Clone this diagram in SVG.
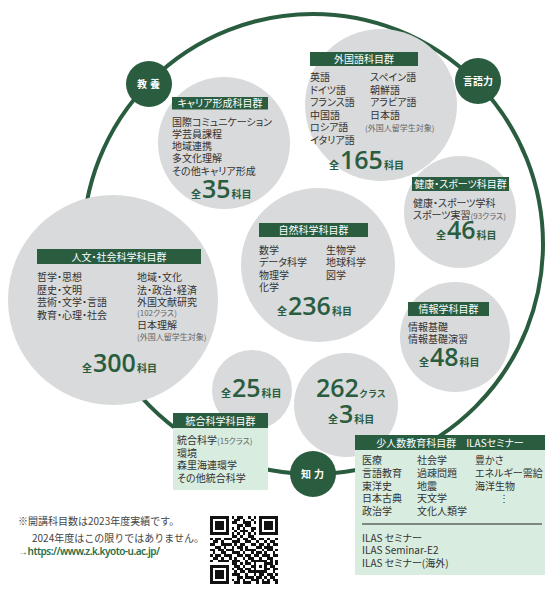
<svg xmlns="http://www.w3.org/2000/svg" width="548" height="590" viewBox="0 0 548 590">
<style>
.c{fill:#d9dadb}
.lb{fill:#2a5d3f}
.gb{fill:#d8ecdf}
.lt{font-family:"Noto Sans CJK JP",sans-serif;font-size:10px;fill:#fff;text-anchor:middle;font-feature-settings:"palt"}
.t{font-family:"Noto Sans CJK JP",sans-serif;font-size:10px;fill:#333;font-feature-settings:"palt"}
.s{font-size:8px;fill:#666}
.z{font-family:"Noto Sans CJK JP",sans-serif;font-weight:700;font-size:10px;fill:#2a5d3f}
.n{font-family:"Open Sans","Noto Sans",sans-serif;font-weight:600;font-size:25px}
.bt{font-family:"Noto Sans CJK JP",sans-serif;font-weight:700;font-size:10px;fill:#fff;text-anchor:middle}
.nt{font-family:"Noto Sans CJK JP",sans-serif;font-size:10px;fill:#444}
</style>
<rect width="548" height="590" fill="#fff"/>
<g id="connectors">
<circle cx="313" cy="244" r="230" fill="none" stroke="#2a5d3f" stroke-width="4"/>
</g>
<g id="foreign">
<circle class="c" cx="381" cy="105" r="76"/>
<rect class="lb" x="310" y="52" width="108" height="14"/>
<text class="lt" x="364" y="63">外国語科目群</text>
<text class="t" x="310" y="81">英語</text>
<text class="t" x="310" y="93.6">ドイツ語</text>
<text class="t" x="310" y="106.2">フランス語</text>
<text class="t" x="310" y="118.8">中国語</text>
<text class="t" x="310" y="131.4">ロシア語</text>
<text class="t" x="310" y="144">イタリア語</text>
<text class="t" x="370" y="81">スペイン語</text>
<text class="t" x="370" y="93.6">朝鮮語</text>
<text class="t" x="370" y="106.2">アラビア語</text>
<text class="t" x="370" y="118.8">日本語</text>
<text class="t s" x="365" y="131">(外国人留学生対象)</text>
<text class="z" x="329" y="169">全<tspan class="n" dx="1">165</tspan><tspan dx="1">科目</tspan></text>
</g>
<g id="career">
<circle class="c" cx="224" cy="143" r="66"/>
<rect class="lb" x="172" y="97" width="96" height="12.5"/>
<text class="lt" x="220" y="107">キャリア形成科目群</text>
<text class="t" x="172" y="125.5">国際コミュニケーション</text>
<text class="t" x="172" y="137.8">学芸員課程</text>
<text class="t" x="172" y="150.1">地域連携</text>
<text class="t" x="172" y="162.4">多文化理解</text>
<text class="t" x="172" y="174.7">その他キャリア形成</text>
<text class="z" x="191" y="198">全<tspan class="n" dx="1">35</tspan><tspan dx="1">科目</tspan></text>
</g>
<g id="humanities">
<circle class="c" cx="113" cy="300" r="105"/>
<rect class="lb" x="37" y="249" width="164" height="15"/>
<text class="lt" x="119" y="260.5">人文・社会科学科目群</text>
<text class="t" x="37" y="281">哲学・思想</text>
<text class="t" x="37" y="293.5">歴史・文明</text>
<text class="t" x="37" y="306">芸術・文学・言語</text>
<text class="t" x="37" y="318.5">教育・心理・社会</text>
<text class="t" x="137" y="281">地域・文化</text>
<text class="t" x="137" y="293.5">法・政治・経済</text>
<text class="t" x="137" y="306">外国文献研究</text>
<text class="t s" x="137" y="315.5">(102クラス)</text>
<text class="t" x="137" y="329">日本理解</text>
<text class="t s" x="137" y="339.5">(外国人留学生対象)</text>
<text class="z" x="82" y="372">全<tspan class="n" dx="1">300</tspan><tspan dx="1">科目</tspan></text>
</g>
<g id="natural">
<circle class="c" cx="318" cy="265" r="77"/>
<rect class="lb" x="259" y="223" width="109" height="14"/>
<text class="lt" x="313.5" y="234">自然科学科目群</text>
<text class="t" x="259" y="254">数学</text>
<text class="t" x="259" y="266.3">データ科学</text>
<text class="t" x="259" y="278.6">物理学</text>
<text class="t" x="259" y="290.9">化学</text>
<text class="t" x="326" y="254">生物学</text>
<text class="t" x="326" y="266.3">地球科学</text>
<text class="t" x="326" y="278.6">図学</text>
<text class="z" x="277" y="315">全<tspan class="n" dx="1">236</tspan><tspan dx="1">科目</tspan></text>
</g>
<g id="health">
<circle class="c" cx="460" cy="212" r="56"/>
<rect class="lb" x="412" y="177" width="97" height="14"/>
<text class="lt" x="460.5" y="188" font-size="9.5">健康・スポーツ科目群</text>
<text class="t" x="413" y="207">健康・スポーツ学科</text>
<text class="t" x="413" y="219.3">スポーツ実習<tspan class="s">(93クラス)</tspan></text>
<text class="z" x="436" y="239">全<tspan class="n" dx="1" font-size="22">46</tspan><tspan dx="1">科目</tspan></text>
</g>
<g id="informatics">
<circle class="c" cx="455" cy="337" r="55"/>
<rect class="lb" x="408" y="302" width="81" height="14"/>
<text class="lt" x="448.5" y="313">情報学科目群</text>
<text class="t" x="408" y="331">情報基礎</text>
<text class="t" x="408" y="342.5">情報基礎演習</text>
<text class="z" x="419" y="366">全<tspan class="n" dx="1" font-size="22">48</tspan><tspan dx="1">科目</tspan></text>
</g>
<g id="total25">
<circle class="c" cx="252" cy="390" r="40"/>
<text class="z" x="221" y="397">全<tspan class="n" dx="1">25</tspan><tspan dx="1">科目</tspan></text>
</g>
<g id="classes262">
<circle class="c" cx="346" cy="405" r="52"/>
<text class="z" x="316" y="397"><tspan class="n">262</tspan><tspan font-size="9">クラス</tspan></text>
<text class="z" x="328" y="423">全<tspan class="n" dx="1" font-size="18">3</tspan><tspan dx="1">科目</tspan></text>
</g>
<g id="integrated">
<rect class="gb" x="173" y="413" width="95" height="77"/>
<rect class="lb" x="173" y="413" width="95" height="15"/>
<text class="lt" x="220.5" y="424.5">統合科学科目群</text>
<text class="t" x="177" y="444">統合科学<tspan class="s">(15クラス)</tspan></text>
<text class="t" x="177" y="456.5">環境</text>
<text class="t" x="177" y="469">森里海連環学</text>
<text class="t" x="177" y="481.5">その他統合科学</text>
</g>
<g id="seminar">
<rect class="gb" x="355" y="435" width="190" height="140"/>
<rect class="lb" x="355" y="435" width="190" height="15"/>
<text class="lt" x="450" y="446.5">少人数教育科目群　ILASセミナー</text>
<text class="t" x="362" y="464">医療</text>
<text class="t" x="362" y="476.8">言語教育</text>
<text class="t" x="362" y="489.6">東洋史</text>
<text class="t" x="362" y="502.4">日本古典</text>
<text class="t" x="362" y="515.2">政治学</text>
<text class="t" x="417" y="464">社会学</text>
<text class="t" x="417" y="476.8">過疎問題</text>
<text class="t" x="417" y="489.6">地震</text>
<text class="t" x="417" y="502.4">天文学</text>
<text class="t" x="417" y="515.2">文化人類学</text>
<text class="t" x="475" y="464">豊かさ</text>
<text class="t" x="475" y="476.8">エネルギー需給</text>
<text class="t" x="475" y="489.6">海洋生物</text>
<text class="t" x="499" y="502.4" fill="#777">⋮</text>
<line x1="362" y1="524" x2="542" y2="524" stroke="#222" stroke-width="1"/>
<text class="t" x="362" y="541.5">ILAS セミナー</text>
<text class="t" x="362" y="554">ILAS Seminar-E2</text>
<text class="t" x="362" y="566.5">ILAS セミナー(海外)</text>
</g>
<g id="badge-kyoyo">
<circle cx="149" cy="84" r="23" fill="#2a5d3f"/>
<text class="bt" x="150" y="88" letter-spacing="3">教養</text>
</g>
<g id="badge-gengo">
<circle cx="478" cy="81" r="23" fill="#2a5d3f"/>
<text class="bt" x="478" y="85">言語力</text>
</g>
<g id="badge-chiryoku">
<circle cx="313" cy="474" r="23" fill="#2a5d3f"/>
<text class="bt" x="314" y="478" letter-spacing="3">知力</text>
</g>
<g id="note">
<text class="nt" x="18" y="524.5">※開講科目数は2023年度実績です。</text>
<text class="nt" x="32" y="541.5">2024年度はこの限りではありません。</text>
<text x="18" y="555" font-family="'Noto Sans',sans-serif" font-size="10" font-weight="600" fill="#2a6e45" textLength="142">→https://www.z.k.kyoto-u.ac.jp/</text>
</g>
<g id="qr" transform="translate(210,516) scale(2.72)" fill="#111" shape-rendering="crispEdges">
<path d="M0 0h7v1h-7zM8 0h1v1h-1zM10 0h2v1h-2zM14 0h1v1h-1zM16 0h1v1h-1zM18 0h7v1h-7z
M0 1h1v1h-1zM6 1h1v1h-1zM9 1h2v1h-2zM12 1h1v1h-1zM15 1h1v1h-1zM18 1h1v1h-1zM24 1h1v1h-1z
M0 2h1v1h-1zM2 2h3v1h-3zM6 2h1v1h-1zM8 2h2v1h-2zM12 2h3v1h-3zM16 2h1v1h-1zM18 2h1v1h-1zM20 2h3v1h-3zM24 2h1v1h-1z
M0 3h1v1h-1zM2 3h3v1h-3zM6 3h1v1h-1zM10 3h2v1h-2zM13 3h2v1h-2zM18 3h1v1h-1zM20 3h3v1h-3zM24 3h1v1h-1z
M0 4h1v1h-1zM2 4h3v1h-3zM6 4h1v1h-1zM8 4h1v1h-1zM10 4h1v1h-1zM12 4h1v1h-1zM15 4h2v1h-2zM18 4h1v1h-1zM20 4h3v1h-3zM24 4h1v1h-1z
M0 5h1v1h-1zM6 5h1v1h-1zM9 5h1v1h-1zM11 5h3v1h-3zM15 5h1v1h-1zM18 5h1v1h-1zM24 5h1v1h-1z
M0 6h7v1h-7zM8 6h1v1h-1zM10 6h1v1h-1zM12 6h1v1h-1zM14 6h1v1h-1zM16 6h1v1h-1zM18 6h7v1h-7z
M8 7h2v1h-2zM11 7h1v1h-1zM14 7h2v1h-2z
M0 8h1v1h-1zM2 8h2v1h-2zM5 8h3v1h-3zM10 8h1v1h-1zM12 8h2v1h-2zM15 8h2v1h-2zM18 8h2v1h-2zM21 8h1v1h-1zM24 8h1v1h-1z
M1 9h2v1h-2zM4 9h1v1h-1zM8 9h3v1h-3zM13 9h2v1h-2zM17 9h1v1h-1zM20 9h1v1h-1zM22 9h2v1h-2z
M0 10h2v1h-2zM4 10h4v1h-4zM9 10h1v1h-1zM11 10h2v1h-2zM15 10h2v1h-2zM18 10h2v1h-2zM21 10h1v1h-1zM23 10h2v1h-2z
M2 11h2v1h-2zM5 11h1v1h-1zM8 11h1v1h-1zM10 11h2v1h-2zM13 11h1v1h-1zM17 11h2v1h-2zM20 11h3v1h-3z
M0 12h2v1h-2zM3 12h2v1h-2zM6 12h3v1h-3zM11 12h1v1h-1zM13 12h4v1h-4zM19 12h1v1h-1zM21 12h2v1h-2zM24 12h1v1h-1z
M1 13h1v1h-1zM4 13h2v1h-2zM8 13h3v1h-3zM12 13h1v1h-1zM15 13h1v1h-1zM17 13h2v1h-2zM20 13h1v1h-1zM23 13h1v1h-1z
M0 14h1v1h-1zM2 14h2v1h-2zM5 14h3v1h-3zM10 14h2v1h-2zM13 14h2v1h-2zM16 14h2v1h-2zM19 14h3v1h-3zM23 14h2v1h-2z
M1 15h2v1h-2zM4 15h1v1h-1zM7 15h1v1h-1zM9 15h1v1h-1zM12 15h1v1h-1zM14 15h2v1h-2zM18 15h1v1h-1zM21 15h2v1h-2z
M0 16h1v1h-1zM3 16h4v1h-4zM8 16h3v1h-3zM13 16h1v1h-1zM15 16h6v1h-6zM22 16h1v1h-1zM24 16h1v1h-1z
M8 17h2v1h-2zM11 17h1v1h-1zM13 17h2v1h-2zM16 17h1v1h-1zM20 17h3v1h-3zM24 17h1v1h-1z
M0 18h7v1h-7zM9 18h2v1h-2zM12 18h1v1h-1zM15 18h2v1h-2zM18 18h1v1h-1zM20 18h1v1h-1zM22 18h2v1h-2z
M0 19h1v1h-1zM6 19h1v1h-1zM8 19h1v1h-1zM10 19h2v1h-2zM13 19h2v1h-2zM16 19h1v1h-1zM20 19h2v1h-2zM23 19h2v1h-2z
M0 20h1v1h-1zM2 20h3v1h-3zM6 20h1v1h-1zM9 20h1v1h-1zM11 20h2v1h-2zM14 20h7v1h-7zM23 20h1v1h-1z
M0 21h1v1h-1zM2 21h3v1h-3zM6 21h1v1h-1zM8 21h3v1h-3zM13 21h1v1h-1zM16 21h1v1h-1zM18 21h2v1h-2zM21 21h2v1h-2zM24 21h1v1h-1z
M0 22h1v1h-1zM2 22h3v1h-3zM6 22h1v1h-1zM10 22h2v1h-2zM13 22h3v1h-3zM17 22h2v1h-2zM20 22h1v1h-1zM22 22h2v1h-2z
M0 23h1v1h-1zM6 23h1v1h-1zM8 23h1v1h-1zM10 23h1v1h-1zM12 23h1v1h-1zM15 23h3v1h-3zM19 23h1v1h-1zM21 23h1v1h-1zM23 23h2v1h-2z
M0 24h7v1h-7zM9 24h2v1h-2zM12 24h3v1h-3zM17 24h1v1h-1zM19 24h3v1h-3zM24 24h1v1h-1z"/>
</g>
</svg>
